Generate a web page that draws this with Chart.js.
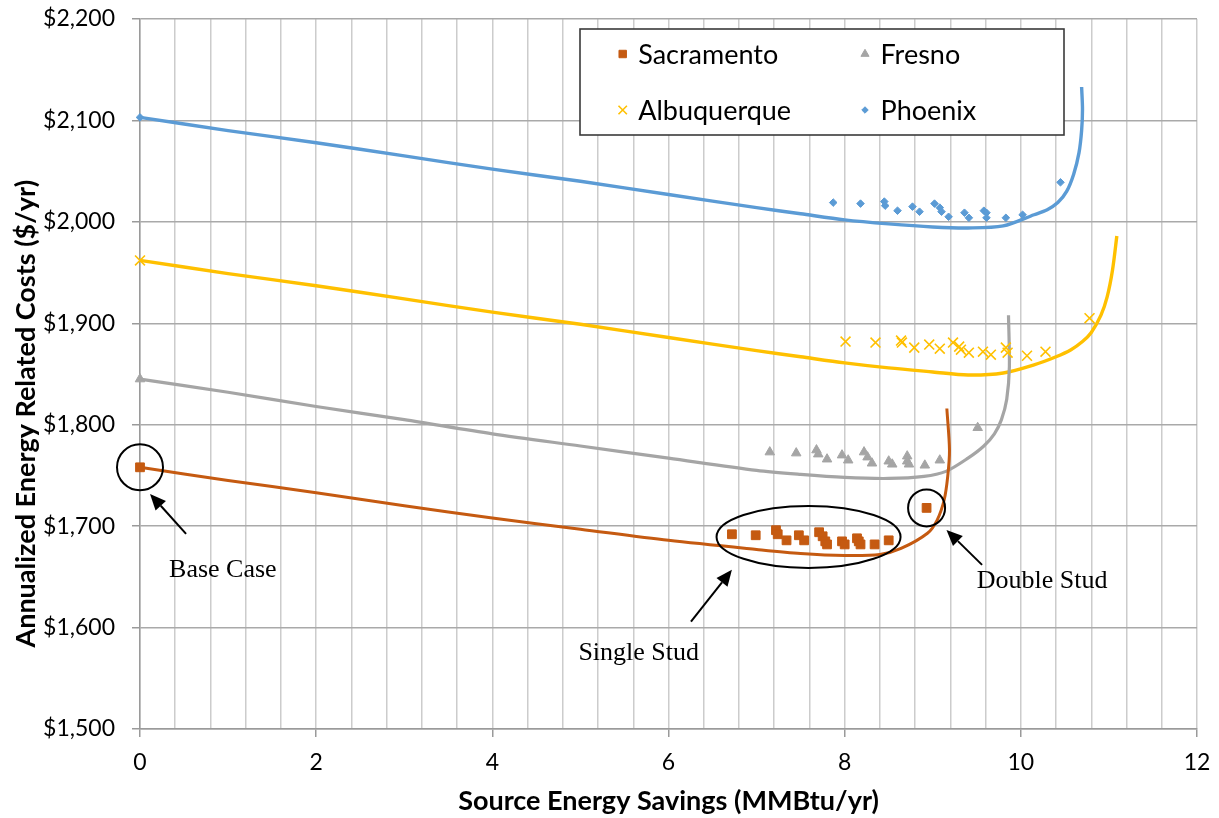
<!DOCTYPE html>
<html><head><meta charset="utf-8">
<script src="https://cdn.jsdelivr.net/npm/chart.js@4/dist/chart.umd.min.js"></script>
<style>html,body{margin:0;padding:0;background:#fff;}#wrap{width:1219px;height:818px;}</style>
</head><body><div id="wrap"><canvas id="c" width="1219" height="818"></canvas></div>
<script>
// ---- data ----
const seriesNames = ['Sacramento', 'Fresno', 'Albuquerque', 'Phoenix'];
const seriesColors = ['#C55A11', '#A5A5A5', '#FFC000', '#5B9BD5'];

// measured design points
const sacX = [0, 6.72, 6.99, 7.22, 7.24, 7.34, 7.48, 7.54, 7.71, 7.75, 7.78, 7.80, 7.97, 8.00, 8.14, 8.16, 8.18, 8.34, 8.50, 8.93];
const sacY = [1758, 1692, 1691, 1696, 1692, 1686, 1691, 1686, 1694, 1690, 1685, 1682, 1685, 1682, 1688, 1685, 1682, 1682, 1686, 1718];
const freX = [0, 7.15, 7.45, 7.68, 7.70, 7.80, 7.97, 8.04, 8.22, 8.26, 8.31, 8.50, 8.54, 8.71, 8.71, 8.73, 8.91, 9.08, 9.51];
const freY = [1845, 1773, 1772, 1775, 1771, 1766, 1770, 1765, 1773, 1768, 1762, 1764, 1761, 1769, 1764, 1761, 1760, 1765, 1797];
const albX = [0, 8.01, 8.35, 8.64, 8.65, 8.79, 8.96, 9.08, 9.23, 9.30, 9.32, 9.41, 9.57, 9.66, 9.83, 9.85, 10.07, 10.28, 10.78];
const albY = [1962, 1882, 1881, 1883, 1881, 1876, 1879, 1875, 1881, 1877, 1874, 1871, 1872, 1869, 1876, 1871, 1868, 1872, 1905];
const phoX = [0, 7.87, 8.18, 8.45, 8.46, 8.60, 8.77, 8.85, 9.02, 9.08, 9.10, 9.18, 9.36, 9.41, 9.58, 9.61, 9.61, 9.83, 10.02, 10.45];
const phoY = [2103, 2019, 2018, 2020, 2016, 2011, 2015, 2010, 2018, 2014, 2010, 2005, 2009, 2004, 2011, 2009, 2004, 2004, 2007, 2039];

// fitted curves
const sacCurveX = [0, 1, 2, 3, 4, 5, 6, 7, 7.5, 8, 8.4, 8.64, 8.94, 9.05, 9.13, 9.17, 9.19, 9.16];
const sacCurveY = [1758, 1745, 1733, 1720, 1708, 1697, 1686, 1677, 1673, 1671, 1672, 1678, 1693, 1706, 1726, 1749, 1775, 1816];
const freCurveX = [0, 1, 2, 3, 4, 5, 6, 7, 7.5, 8, 8.5, 8.9, 9.15, 9.4, 9.58, 9.7, 9.78, 9.84, 9.87, 9.86];
const freCurveY = [1845, 1832, 1818, 1805, 1791, 1779, 1767, 1755, 1751, 1748, 1747, 1749, 1754, 1767, 1779, 1791, 1805, 1825, 1857, 1908];
const albCurveX = [0, 1, 2, 3, 4, 5, 6, 7, 7.5, 8, 8.5, 9, 9.4, 9.8, 10.15, 10.4, 10.57, 10.7, 10.8, 10.91, 10.98, 11.04, 11.09];
const albCurveY = [1962, 1949, 1937, 1924, 1911, 1899, 1886, 1873, 1867, 1861, 1856, 1852, 1849, 1851, 1859, 1867, 1874, 1882, 1891, 1908, 1926, 1952, 1986];
const phoCurveX = [0, 1, 2, 3, 4, 5, 6, 7, 7.5, 8, 8.5, 9, 9.4, 9.8, 10.15, 10.3, 10.42, 10.52, 10.6, 10.66, 10.69, 10.70, 10.69];
const phoCurveY = [2103, 2090, 2078, 2065, 2052, 2040, 2027, 2014, 2008, 2002, 1998, 1995, 1994, 1996, 2007, 2012, 2019, 2030, 2047, 2068, 2090, 2111, 2133];

// axes
const xMin = 0, xMax = 12, xMajorStep = 2, xGridStep = 0.4;
const yMin = 1500, yMax = 2200, yStep = 100;
const xTitle = 'Source Energy Savings (MMBtu/yr)';
const yTitle = 'Annualized Energy Related Costs ($/yr)';

// annotations (data coordinates)
const annoLabels = ['Base Case', 'Single Stud', 'Double Stud'];
const annoTextX = [0.33, 4.977, 9.5];
const annoTextY = [1650, 1568, 1639];
const annoArrowFromX = [0.523, 6.255, 9.56];
const annoArrowFromY = [1692.4, 1605.8, 1661.8];
const annoArrowToX = [0.114, 6.72, 9.156];
const annoArrowToY = [1731.8, 1656.9, 1696.3];

// ---- build ----
const zip = (xs, ys) => xs.map((x, i) => ({x: x, y: ys[i]}));
const pointSets = [[sacX, sacY], [freX, freY], [albX, albY], [phoX, phoY]];
const curveSets = [[sacCurveX, sacCurveY], [freCurveX, freCurveY], [albCurveX, albCurveY], [phoCurveX, phoCurveY]];
const pointStyles = ['rect', 'triangle', 'crossRot', 'rectRot'];
const pointRadii = [6.2, 5.5, 7, 3.8];
const pointBorders = [1, 1, 1.6, 1];
const curveWidths = [3, 3.2, 3.4, 3.4];

const datasets = [];
seriesNames.forEach((name, i) => {
  datasets.push({
    label: name, data: zip(pointSets[i][0], pointSets[i][1]),
    showLine: false, pointStyle: pointStyles[i], pointRadius: pointRadii[i], pointHoverRadius: pointRadii[i],
    backgroundColor: seriesColors[i], borderColor: seriesColors[i], pointBorderWidth: pointBorders[i],
    clip: false, order: 0
  });
});
seriesNames.forEach((name, i) => {
  datasets.push({
    label: name + ' fit', data: zip(curveSets[i][0], curveSets[i][1]),
    showLine: true, pointRadius: 0, pointHoverRadius: 0, borderColor: seriesColors[i], backgroundColor: seriesColors[i],
    borderWidth: curveWidths[i], tension: 0.3, fill: false, clip: 6, order: 1
  });
});

const xGrid = [];
for (let i = 0; i <= Math.round((xMax - xMin) / xGridStep); i++) xGrid.push(Math.round((xMin + i * xGridStep) * 100) / 100);
const isMajorX = v => Math.abs(v / xMajorStep - Math.round(v / xMajorStep)) < 1e-6;

const legendPlugin = {
  id: 'boxLegend',
  afterDatasetsDraw(chart) {
    const ctx = chart.ctx, a = chart.chartArea;
    const bx = a.left + 440, by = a.top + 10, bw = 484, bh = 106;
    ctx.save();
    ctx.fillStyle = '#fff'; ctx.fillRect(bx, by, bw, bh);
    ctx.strokeStyle = '#3a3a3a'; ctx.lineWidth = 1.6; ctx.strokeRect(bx, by, bw, bh);
    ctx.font = '27px Lato'; ctx.textBaseline = 'middle'; ctx.textAlign = 'left';
    const cols = [bx + 42.7, bx + 285], rows = [by + 25, by + 81];
    seriesNames.forEach((name, i) => {
      const cx = cols[i % 2], cy = rows[Math.floor(i / 2)];
      ctx.fillStyle = seriesColors[i]; ctx.strokeStyle = seriesColors[i]; ctx.lineWidth = pointBorders[i];
      Chart.helpers.drawPoint(ctx, {pointStyle: pointStyles[i], radius: pointRadii[i] * 0.85, rotation: 0, borderWidth: pointBorders[i]}, cx, cy);
      ctx.fillStyle = '#000';
      ctx.fillText(name, cx + 15.5, cy + 1);
    });
    ctx.restore();
  }
};

const annoPlugin = {
  id: 'annos',
  afterDatasetsDraw(chart) {
    const ctx = chart.ctx, xs = chart.scales.x, ys = chart.scales.y;
    ctx.save();
    ctx.strokeStyle = '#000'; ctx.fillStyle = '#000'; ctx.lineWidth = 2;
    const ring = (x, y, rx, ry) => { ctx.beginPath(); ctx.ellipse(xs.getPixelForValue(x), ys.getPixelForValue(y), rx, ry, 0, 0, Math.PI * 2); ctx.stroke(); };
    ring(sacX[0], sacY[0], 23, 23);
    ring(7.59, 1689.4, 92, 31);
    ring(sacX[sacX.length - 1], sacY[sacY.length - 1], 18.5, 18.5);
    annoLabels.forEach((t, i) => {
      const x1 = xs.getPixelForValue(annoArrowFromX[i]), y1 = ys.getPixelForValue(annoArrowFromY[i]);
      const x2 = xs.getPixelForValue(annoArrowToX[i]), y2 = ys.getPixelForValue(annoArrowToY[i]);
      const ang = Math.atan2(y2 - y1, x2 - x1), hl = 16, hw = 7;
      const bxp = x2 - Math.cos(ang) * hl, byp = y2 - Math.sin(ang) * hl;
      ctx.beginPath(); ctx.moveTo(x1, y1); ctx.lineTo(bxp, byp); ctx.stroke();
      ctx.beginPath(); ctx.moveTo(x2, y2);
      ctx.lineTo(bxp + Math.sin(ang) * hw, byp - Math.cos(ang) * hw);
      ctx.lineTo(bxp - Math.sin(ang) * hw, byp + Math.cos(ang) * hw);
      ctx.closePath(); ctx.fill();
      ctx.font = '26px "Liberation Serif"'; ctx.textBaseline = 'alphabetic'; ctx.textAlign = 'left';
      ctx.fillText(t, xs.getPixelForValue(annoTextX[i]), ys.getPixelForValue(annoTextY[i]));
    });
    ctx.restore();
  }
};

// y-axis title, placed like the reference (centre slightly below plot centre)
const yTitlePlugin = {
  id: 'yTitle',
  afterDraw(chart) {
    const ctx = chart.ctx, a = chart.chartArea;
    ctx.save();
    ctx.translate(26, a.top + (a.bottom - a.top) * 0.556);
    ctx.rotate(-Math.PI / 2);
    ctx.font = 'bold 27px Lato'; ctx.fillStyle = '#000';
    ctx.textAlign = 'center'; ctx.textBaseline = 'middle';
    ctx.fillText(yTitle, 0, 0);
    ctx.restore();
  }
};

new Chart(document.getElementById('c'), {
  type: 'scatter',
  data: {datasets: datasets},
  plugins: [annoPlugin, legendPlugin, yTitlePlugin],
  options: {
    responsive: false, animation: false, devicePixelRatio: 1,
    layout: {padding: {left: 0, right: 22, top: 19, bottom: 0}},
    plugins: {legend: {display: false}, tooltip: {enabled: false}},
    scales: {
      x: {
        type: 'linear', min: xMin, max: xMax,
        afterBuildTicks: s => { s.ticks = xGrid.map(v => ({value: v})); },
        afterFit: s => { s.height = 89; s.paddingRight = 0; s.paddingLeft = 0; },
        ticks: {autoSkip: false, maxRotation: 0, padding: 12, color: '#000', font: {family: 'Lato', size: 23},
          callback: v => isMajorX(v) ? String(Math.round(v)) : ''},
        grid: {color: '#cccccc', lineWidth: 1.5, tickLength: 8,
          tickColor: c => (c.tick && isMajorX(c.tick.value)) ? '#9a9a9a' : 'rgba(0,0,0,0)'},
        border: {color: '#9a9a9a', width: 1.5},
        title: {display: true, text: xTitle, color: '#000', font: {family: 'Lato', size: 27, weight: 'bold'}, padding: {top: 0, bottom: 1}}
      },
      y: {
        type: 'linear', min: yMin, max: yMax,
        afterFit: s => { s.width = 140; s.paddingTop = 0; s.paddingBottom = 0; },
        ticks: {stepSize: yStep, padding: 17, color: '#000', font: {family: 'Lato', size: 23},
          callback: v => '$' + Number(v).toLocaleString('en-US')},
        grid: {color: '#a9a9a9', lineWidth: 1.5, tickLength: 8, tickColor: '#9a9a9a'},
        border: {color: '#9a9a9a', width: 1.5},
        title: {display: false}
      }
    }
  }
});
</script></body></html>
